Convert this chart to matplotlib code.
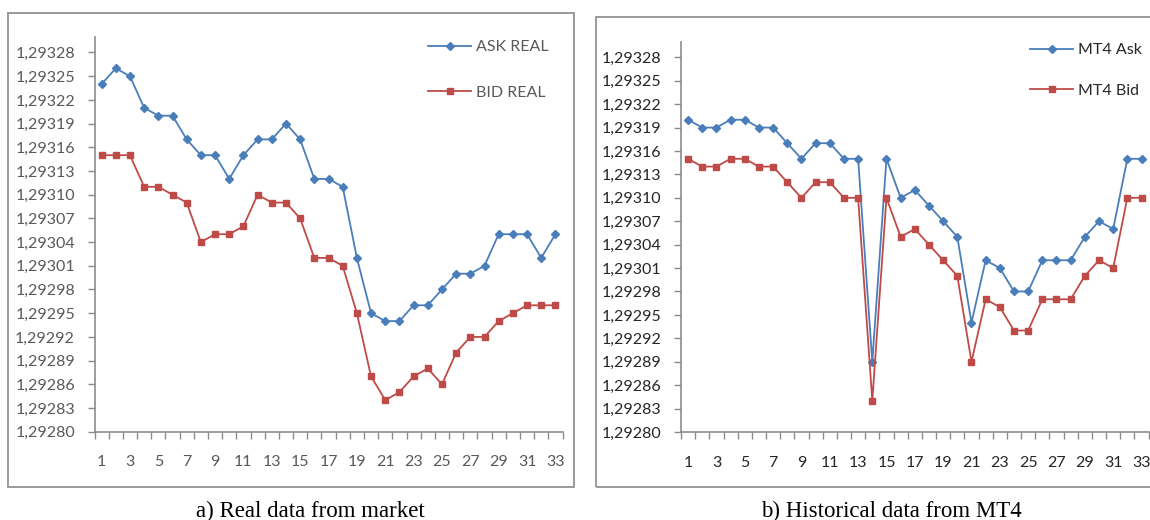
import numpy as np
import matplotlib.pyplot as plt
from matplotlib.patches import Rectangle

W, H = 1150, 520

points = list(range(1, 34))

# a) real market quotes
ask_real = [1.29324, 1.29326, 1.29325, 1.29321, 1.29320, 1.29320, 1.29317, 1.29315,
            1.29315, 1.29312, 1.29315, 1.29317, 1.29317, 1.29319, 1.29317, 1.29312,
            1.29312, 1.29311, 1.29302, 1.29295, 1.29294, 1.29294, 1.29296, 1.29296,
            1.29298, 1.29300, 1.29300, 1.29301, 1.29305, 1.29305, 1.29305, 1.29302,
            1.29305]
bid_real = [1.29315, 1.29315, 1.29315, 1.29311, 1.29311, 1.29310, 1.29309, 1.29304,
            1.29305, 1.29305, 1.29306, 1.29310, 1.29309, 1.29309, 1.29307, 1.29302,
            1.29302, 1.29301, 1.29295, 1.29287, 1.29284, 1.29285, 1.29287, 1.29288,
            1.29286, 1.29290, 1.29292, 1.29292, 1.29294, 1.29295, 1.29296, 1.29296,
            1.29296]

# b) MT4 history
mt4_ask = [1.29320, 1.29319, 1.29319, 1.29320, 1.29320, 1.29319, 1.29319, 1.29317,
           1.29315, 1.29317, 1.29317, 1.29315, 1.29315, 1.29289, 1.29315, 1.29310,
           1.29311, 1.29309, 1.29307, 1.29305, 1.29294, 1.29302, 1.29301, 1.29298,
           1.29298, 1.29302, 1.29302, 1.29302, 1.29305, 1.29307, 1.29306, 1.29315,
           1.29315]
mt4_bid = [1.29315, 1.29314, 1.29314, 1.29315, 1.29315, 1.29314, 1.29314, 1.29312,
           1.29310, 1.29312, 1.29312, 1.29310, 1.29310, 1.29284, 1.29310, 1.29305,
           1.29306, 1.29304, 1.29302, 1.29300, 1.29289, 1.29297, 1.29296, 1.29293,
           1.29293, 1.29297, 1.29297, 1.29297, 1.29300, 1.29302, 1.29301, 1.29310,
           1.29310]

y_ticks = [1.29280, 1.29283, 1.29286, 1.29289, 1.29292, 1.29295, 1.29298, 1.29301,
           1.29304, 1.29307, 1.29310, 1.29313, 1.29316, 1.29319, 1.29322, 1.29325,
           1.29328]
y_lim = (1.29280, 1.29330)

BLUE = "#4a7ebb"
RED = "#be4b48"
AXIS = "#8c8c8c"

plt.rcParams["font.family"] = ["Lato", "DejaVu Sans"]

fig = plt.figure(figsize=(W / 100, H / 100), dpi=100)


def px_axes(x0, x1, top, bottom):
    return fig.add_axes([x0 / W, (H - bottom) / H, (x1 - x0) / W, (bottom - top) / H])


def frame(x0, x1, top, bottom):
    fig.add_artist(Rectangle((x0 / W, (H - bottom) / H), (x1 - x0) / W, (bottom - top) / H,
                             transform=fig.transFigure, fill=False,
                             edgecolor="#9a9a9a", lw=1.4))


def draw_panel(ax, ask, bid, labels, txt_color, leg_anchor, spacing):
    ax.plot(points, ask, color=BLUE, lw=1.3, marker="D", ms=3.8, label=labels[0])
    ax.plot(points, bid, color=RED, lw=1.3, marker="s", ms=5.0, label=labels[1])
    ax.set_xlim(0.5, 33.5)
    ax.set_ylim(*y_lim)
    for s in ("top", "right"):
        ax.spines[s].set_visible(False)
    for s in ("left", "bottom"):
        ax.spines[s].set_color(AXIS)
        ax.spines[s].set_linewidth(1.2)

    ax.set_yticks(y_ticks)
    ax.set_yticklabels([f"{v:.5f}".replace(".", ",") for v in y_ticks])
    ax.tick_params(axis="y", length=5, width=1, color=AXIS, pad=9,
                   labelsize=11.5, labelcolor=txt_color)

    ax.set_xticks(points[::2])
    ax.set_xticklabels([str(p) for p in points[::2]])
    ax.set_xticks(np.arange(0.5, 34, 1), minor=True)
    ax.tick_params(axis="x", which="major", length=0, pad=17,
                   labelsize=11.5, labelcolor=txt_color)
    ax.tick_params(axis="x", which="minor", length=5, width=1, color=AXIS)

    ax.legend(loc="center left", bbox_to_anchor=leg_anchor, bbox_transform=fig.transFigure,
              frameon=False, fontsize=11.5, labelcolor=txt_color, handlelength=2.7,
              handletextpad=0.3, labelspacing=spacing, borderpad=0, borderaxespad=0)


# panel a
frame(8, 574, 13, 487)
ax1 = px_axes(94.5, 562.5, 36.7, 431.7)
draw_panel(ax1, ask_real, bid_real, ["ASK REAL", "BID REAL"], "#595959",
           (428 / W, (H - 70) / H), 1.95)
fig.text(310 / W, (H - 511) / H, "a) Real data from market", ha="center", va="center",
         family="Liberation Serif", fontsize=16.5)

# panel b
frame(596, 1160, 17, 487)
ax2 = px_axes(681, 1148.6, 41.7, 432)
draw_panel(ax2, mt4_ask, mt4_bid, ["MT4 Ask", "MT4 Bid"], "#262626",
           (1030 / W, (H - 70.5) / H), 1.65)
fig.text(891 / W, (H - 511) / H, "b) Historical data from MT4", ha="center", va="center",
         family="Liberation Serif", fontsize=16.5)

fig.savefig("out.png", dpi=100)
